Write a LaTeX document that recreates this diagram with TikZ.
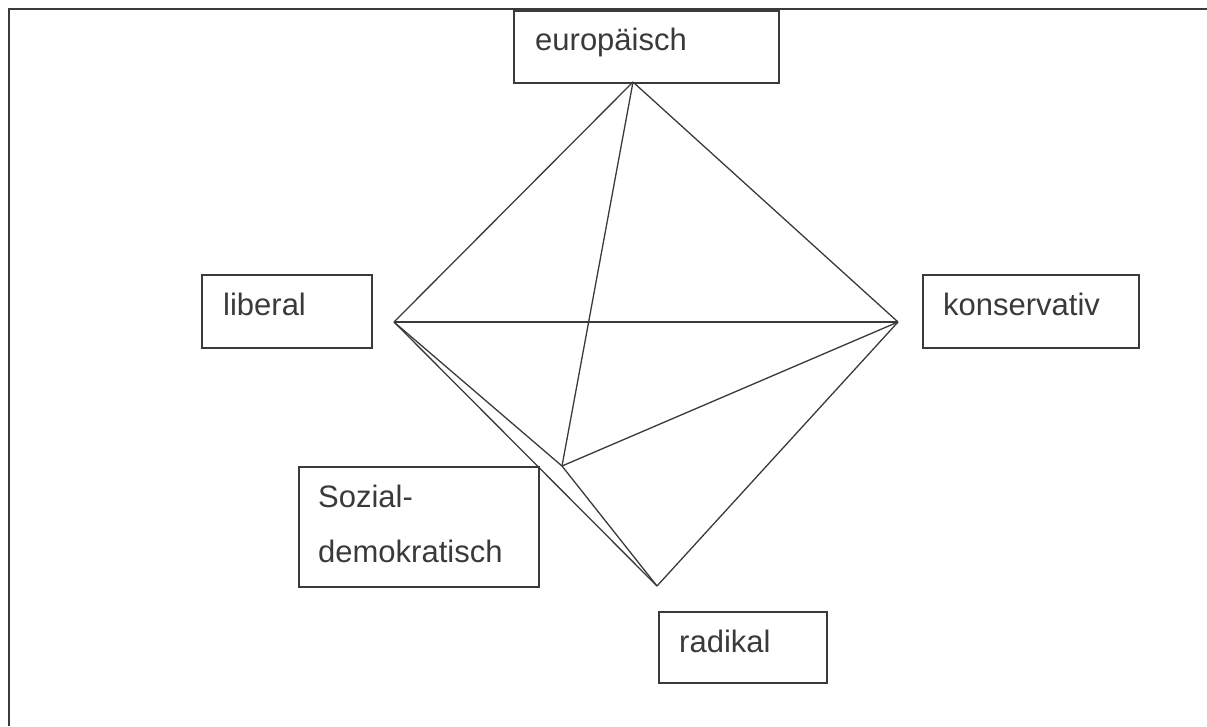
\documentclass[tikz,border=0pt]{standalone}
\usepackage{fontspec}
\setmainfont{Liberation Sans}
\usetikzlibrary{calc}
\definecolor{ink}{HTML}{3A3A3A}
\tikzset{
  frame/.style={draw=ink, line width=2pt},
  box/.style={draw=ink, line width=1.5pt, rectangle, inner sep=0pt, anchor=north west},
  txt/.style={text=ink, inner sep=0pt, anchor=base west, align=left, font=\fontsize{31}{55}\selectfont},
  edge/.style={draw=ink, line width=1.3pt, line join=round}
}
\begin{document}
\begin{tikzpicture}[x=1pt,y=-1pt]
\useasboundingbox (0,0) rectangle (1207,726);
\draw[frame] (9,726) -- (9,9) -- (1207,9);
% boxes
\node[box, minimum width=265, minimum height=72] (eu) at (513,10) {};
\node[txt] (eut) at ($(eu.north west)+(22,40)$) {europäisch};
\node[box, minimum width=170, minimum height=73] (li) at (201,274) {};
\node[txt] (lit) at ($(li.north west)+(22,41)$) {liberal};
\node[box, minimum width=216, minimum height=73] (ko) at (922,274) {};
\node[txt] (kot) at ($(ko.north west)+(21,41)$) {konservativ};
\node[box, minimum width=240, minimum height=120] (so) at (298,466) {};
\node[txt] (sot) at ($(so.north west)+(20,96)$) {Sozial-\\demokratisch};
\node[box, minimum width=168, minimum height=71] (ra) at (658,611) {};
\node[txt] (rat) at ($(ra.north west)+(21,41)$) {radikal};
% vertices
\coordinate (T) at (633,82);
\coordinate (L) at (394,322);
\coordinate (R) at (898,322);
\coordinate (S) at (562,466);
\coordinate (B) at (657,586);
% edges
\draw[edge] (T) -- (L);
\draw[edge] (T) -- (R);
\draw[edge] (T) -- (S);
\draw[edge] (L) -- (R);
\draw[edge] (L) -- (S);
\draw[edge] (L) -- (B);
\draw[edge] (S) -- (R);
\draw[edge] (S) -- (B);
\draw[edge] (R) -- (B);
\end{tikzpicture}
\end{document}
